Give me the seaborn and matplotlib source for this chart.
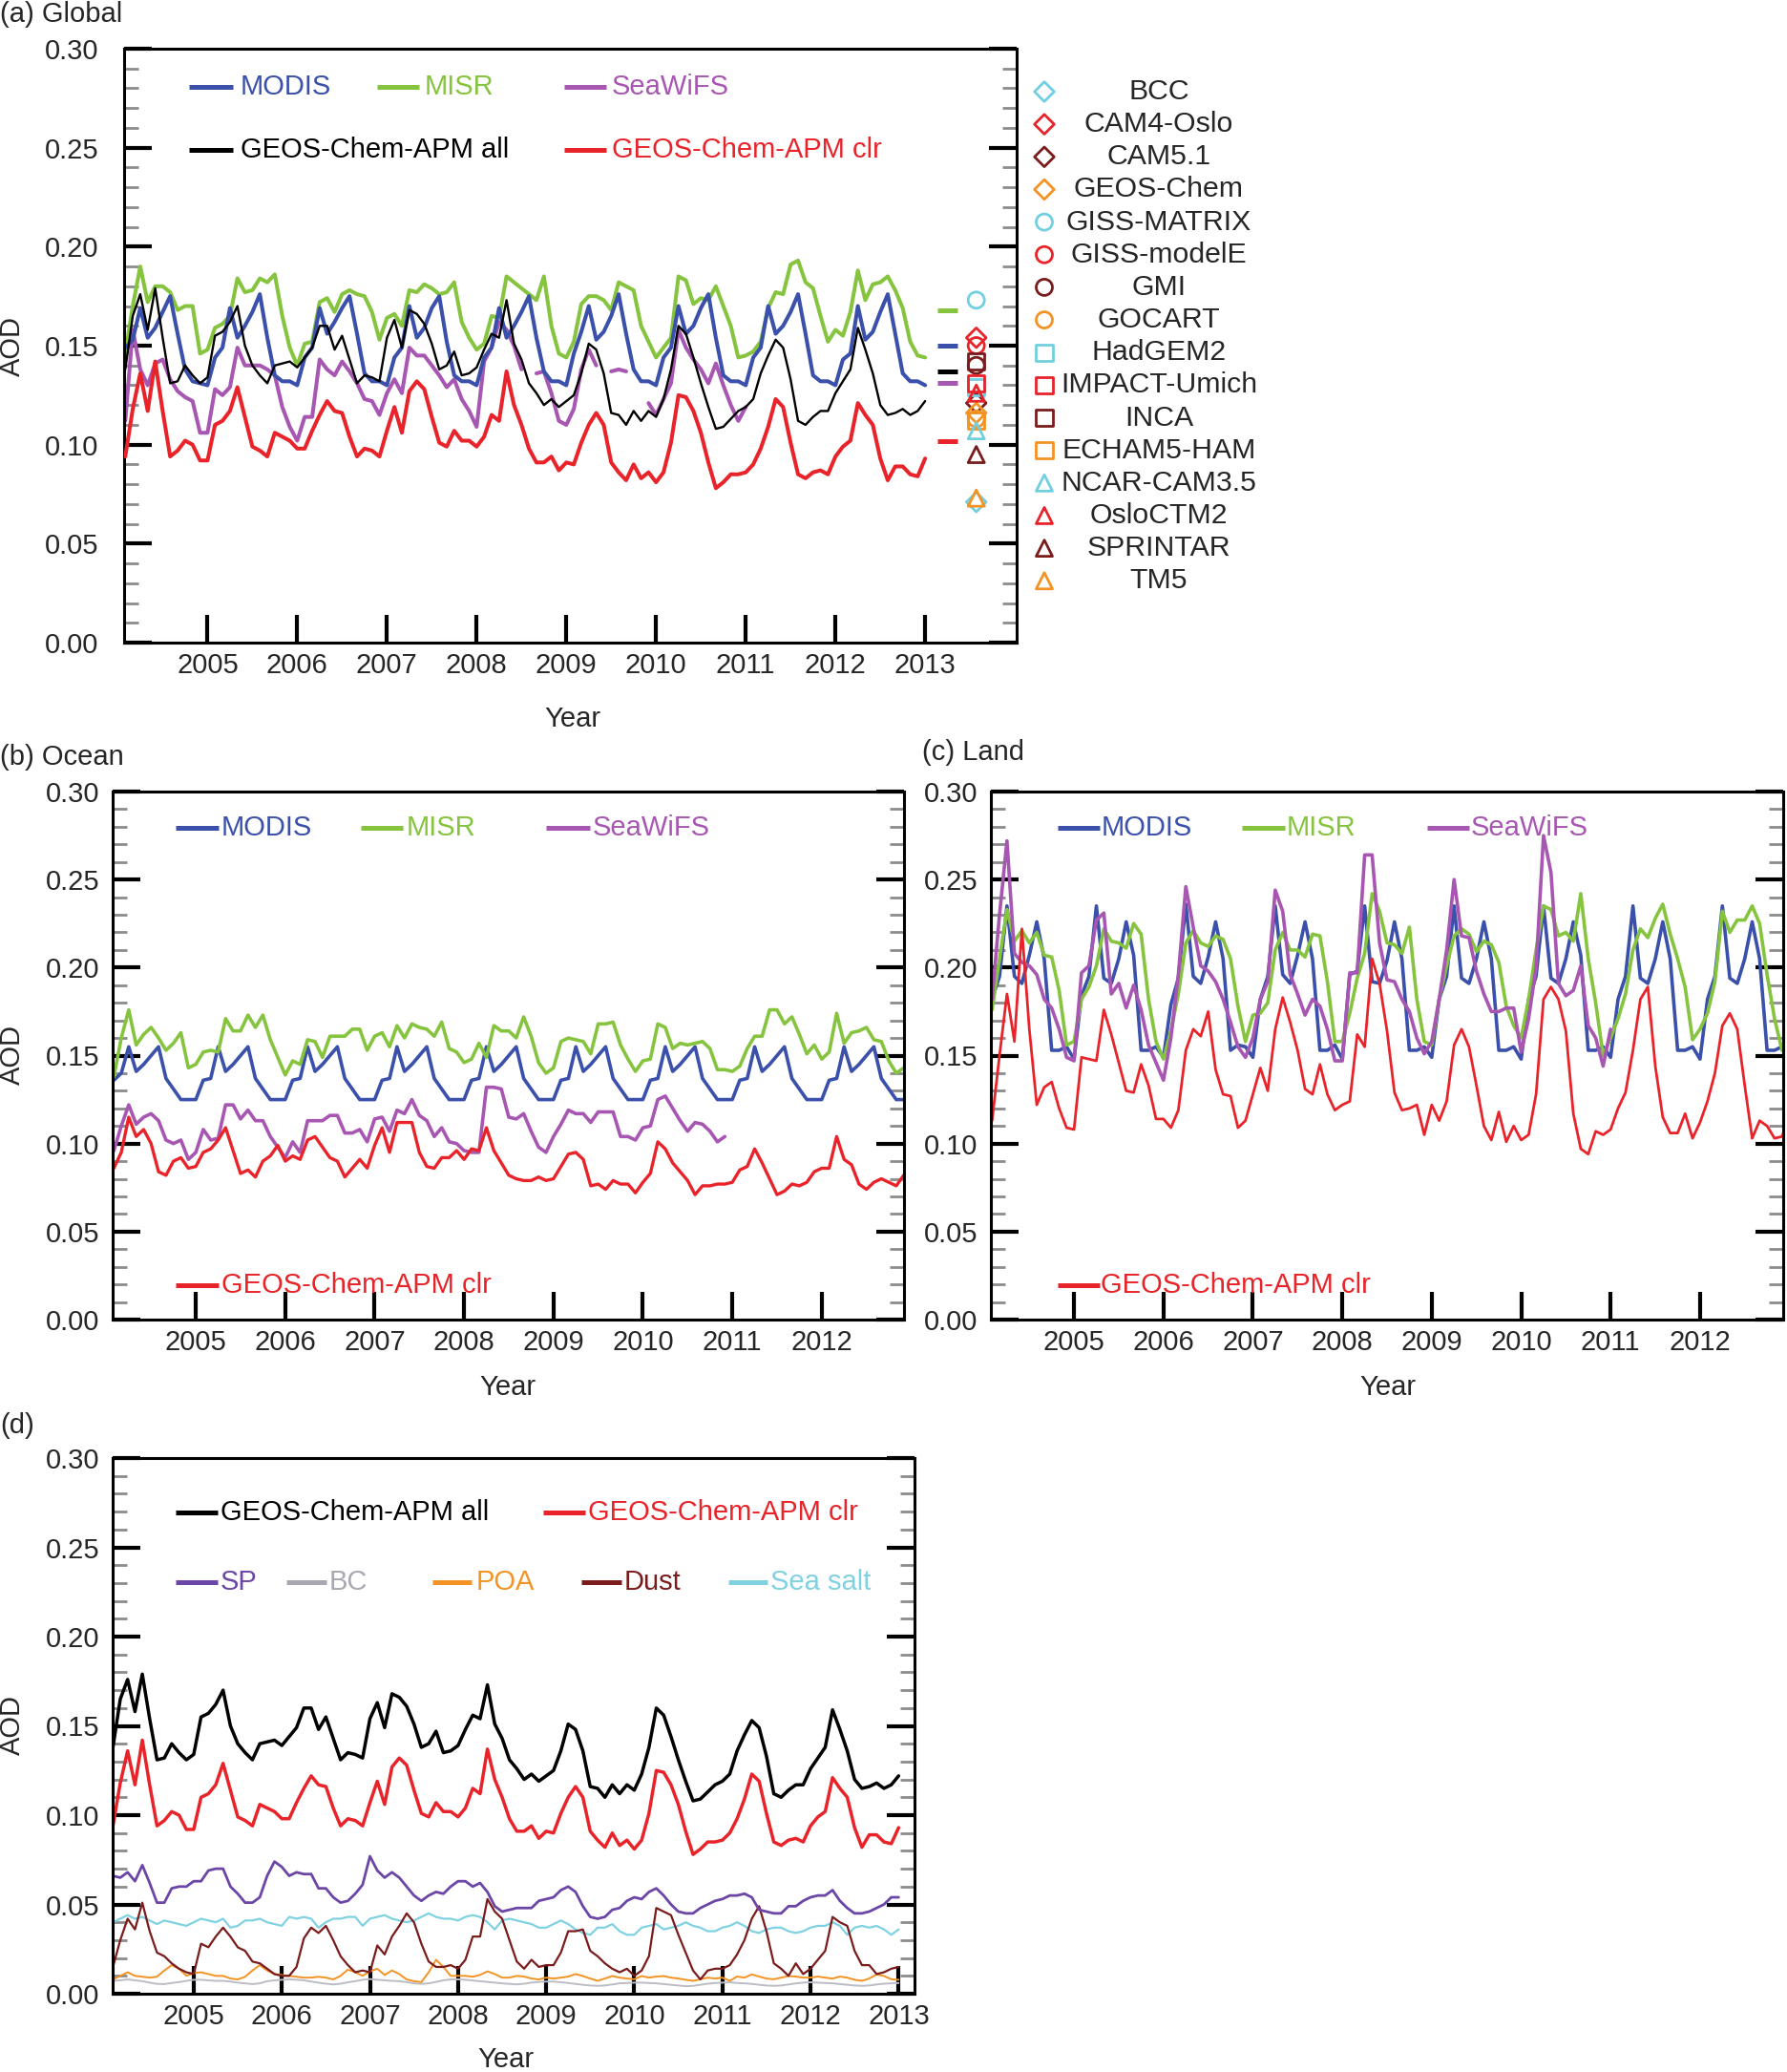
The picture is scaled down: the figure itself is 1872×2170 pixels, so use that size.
import numpy as np
import seaborn as sns
import matplotlib.pyplot as plt
from matplotlib.ticker import MultipleLocator, FormatStrFormatter

sns.set_theme(style='white')
plt.rcParams['font.family'] = ['Liberation Sans', 'DejaVu Sans']

# monthly means Jan 2004 .. Dec 2012, one row per year
months = np.arange(1, 109)
t = 2004 + months / 12.0
nan = np.nan

# ---- (a) global ----
modis_glb = [
    0.149, 0.153, 0.169, 0.154, 0.159, 0.167, 0.175, 0.156, 0.138, 0.132, 0.131, 0.130,
    0.144, 0.149, 0.169, 0.154, 0.160, 0.167, 0.176, 0.154, 0.135, 0.132, 0.132, 0.130,
    0.144, 0.149, 0.169, 0.156, 0.162, 0.169, 0.175, 0.156, 0.136, 0.132, 0.132, 0.130,
    0.144, 0.149, 0.170, 0.154, 0.159, 0.169, 0.175, 0.152, 0.135, 0.132, 0.132, 0.130,
    0.144, 0.149, 0.169, 0.154, 0.160, 0.167, 0.175, 0.154, 0.137, 0.132, 0.132, 0.130,
    0.146, 0.157, 0.170, 0.153, 0.157, 0.165, 0.176, 0.156, 0.138, 0.132, 0.132, 0.130,
    0.144, 0.149, 0.170, 0.156, 0.160, 0.169, 0.176, 0.154, 0.135, 0.132, 0.132, 0.130,
    0.144, 0.149, 0.170, 0.156, 0.160, 0.167, 0.176, 0.156, 0.135, 0.132, 0.132, 0.130,
    0.143, 0.146, 0.170, 0.153, 0.157, 0.167, 0.176, 0.156, 0.136, 0.132, 0.132, 0.130]
misr_glb = [
    0.146, 0.170, 0.190, 0.172, 0.180, 0.180, 0.177, 0.168, 0.170, 0.170, 0.146, 0.148,
    0.159, 0.161, 0.165, 0.184, 0.177, 0.178, 0.184, 0.182, 0.186, 0.165, 0.149, 0.140,
    0.151, 0.152, 0.172, 0.174, 0.167, 0.176, 0.178, 0.176, 0.175, 0.167, 0.153, 0.164,
    0.166, 0.160, 0.178, 0.177, 0.181, 0.179, 0.176, 0.177, 0.182, 0.162, 0.154, 0.148,
    0.151, 0.165, 0.164, 0.185, 0.182, 0.179, 0.176, 0.173, 0.185, 0.160, 0.146, 0.144,
    0.152, 0.171, 0.175, 0.175, 0.173, 0.168, 0.182, 0.180, 0.178, 0.160, 0.152, 0.144,
    0.149, 0.154, 0.185, 0.183, 0.171, 0.174, 0.173, 0.180, 0.170, 0.160, 0.144, 0.145,
    0.147, 0.152, 0.169, 0.177, 0.176, 0.191, 0.193, 0.182, 0.179, 0.165, 0.152, 0.158,
    0.155, 0.167, 0.188, 0.173, 0.181, 0.182, 0.185, 0.178, 0.169, 0.152, 0.145, 0.144]
seawifs_glb = [
    0.112, 0.158, 0.138, 0.130, 0.141, 0.143, 0.133, 0.127, 0.124, 0.122, 0.106, 0.106,
    0.128, 0.125, 0.129, 0.149, 0.140, 0.140, 0.140, 0.138, 0.135, 0.119, 0.109, 0.102,
    0.114, 0.114, 0.143, 0.138, 0.135, 0.142, 0.137, 0.131, 0.123, 0.122, 0.115, 0.126,
    0.133, 0.126, 0.149, 0.145, 0.145, 0.140, 0.135, 0.129, 0.133, 0.123, 0.117, 0.109,
    0.142, 0.149, 0.162, 0.158, 0.150, 0.138, nan, 0.136, 0.137, 0.126, 0.112, 0.110,
    0.118, 0.138, 0.148, 0.140, nan, 0.137, 0.138, 0.137, nan, nan, 0.121, 0.115,
    0.123, 0.131, 0.158, 0.149, 0.143, 0.138, 0.131, 0.141, 0.130, 0.120, 0.112, 0.119,
    nan, nan, nan, nan, nan, nan, nan, nan, nan, nan, nan, nan,
    nan, nan, nan, nan, nan, nan, nan, nan, nan, nan, nan, nan]
apm_all = [
    0.138, 0.165, 0.176, 0.158, 0.179, 0.154, 0.131, 0.132, 0.140, 0.135, 0.131, 0.134,
    0.155, 0.157, 0.162, 0.170, 0.150, 0.140, 0.135, 0.131, 0.140, 0.141, 0.142, 0.139,
    0.144, 0.149, 0.160, 0.160, 0.148, 0.155, 0.143, 0.131, 0.135, 0.134, 0.132, 0.154,
    0.163, 0.149, 0.168, 0.166, 0.161, 0.151, 0.138, 0.140, 0.147, 0.135, 0.136, 0.139,
    0.148, 0.156, 0.154, 0.173, 0.151, 0.143, 0.131, 0.126, 0.120, 0.123, 0.119, 0.122,
    0.125, 0.136, 0.151, 0.148, 0.136, 0.116, 0.115, 0.110, 0.117, 0.112, 0.117, 0.114,
    0.123, 0.138, 0.160, 0.156, 0.144, 0.131, 0.119, 0.108, 0.109, 0.113, 0.117, 0.119,
    0.123, 0.136, 0.145, 0.153, 0.149, 0.133, 0.112, 0.110, 0.114, 0.117, 0.117, 0.126,
    0.132, 0.138, 0.159, 0.148, 0.136, 0.120, 0.115, 0.116, 0.118, 0.115, 0.117, 0.122]
apm_clr = [
    0.094, 0.118, 0.136, 0.117, 0.142, 0.117, 0.094, 0.097, 0.102, 0.100, 0.092, 0.092,
    0.110, 0.112, 0.117, 0.129, 0.114, 0.099, 0.097, 0.094, 0.106, 0.104, 0.102, 0.098,
    0.098, 0.107, 0.115, 0.122, 0.117, 0.116, 0.104, 0.094, 0.098, 0.097, 0.094, 0.107,
    0.119, 0.106, 0.127, 0.132, 0.128, 0.114, 0.101, 0.099, 0.107, 0.102, 0.102, 0.099,
    0.104, 0.115, 0.112, 0.137, 0.120, 0.110, 0.098, 0.091, 0.091, 0.094, 0.087, 0.091,
    0.090, 0.101, 0.110, 0.116, 0.110, 0.091, 0.086, 0.082, 0.090, 0.083, 0.086, 0.081,
    0.086, 0.101, 0.125, 0.124, 0.117, 0.106, 0.091, 0.078, 0.081, 0.085, 0.085, 0.086,
    0.090, 0.098, 0.109, 0.123, 0.119, 0.101, 0.085, 0.083, 0.086, 0.087, 0.085, 0.094,
    0.099, 0.102, 0.121, 0.115, 0.110, 0.093, 0.082, 0.089, 0.089, 0.085, 0.084, 0.093]

# multi-year means shown as short bars right of the series
mean_labels = ['MISR', 'MODIS', 'APM all', 'SeaWiFS', 'APM clr']
mean_aod = [0.168, 0.150, 0.137, 0.131, 0.102]

# AeroCom models
models = ['BCC', 'CAM4-Oslo', 'CAM5.1', 'GEOS-Chem', 'GISS-MATRIX', 'GISS-modelE',
          'GMI', 'GOCART', 'HadGEM2', 'IMPACT-Umich', 'INCA', 'ECHAM5-HAM',
          'NCAR-CAM3.5', 'OsloCTM2', 'SPRINTAR', 'TM5']
model_aod = [0.071, 0.154, 0.121, 0.116, 0.173, 0.150, 0.140, 0.113,
             0.129, 0.131, 0.142, 0.112, 0.107, 0.126, 0.095, 0.073]

# ---- (b) ocean ----
modis_ocn = [
    0.136, 0.140, 0.155, 0.141, 0.145, 0.150, 0.155, 0.137, 0.131, 0.125, 0.125, 0.125,
    0.136, 0.137, 0.155, 0.141, 0.145, 0.150, 0.155, 0.137, 0.131, 0.125, 0.125, 0.125,
    0.136, 0.137, 0.155, 0.141, 0.145, 0.150, 0.155, 0.137, 0.131, 0.125, 0.125, 0.125,
    0.136, 0.137, 0.155, 0.141, 0.145, 0.150, 0.155, 0.137, 0.131, 0.125, 0.125, 0.125,
    0.136, 0.137, 0.155, 0.141, 0.145, 0.150, 0.155, 0.137, 0.131, 0.125, 0.125, 0.125,
    0.136, 0.137, 0.155, 0.141, 0.145, 0.150, 0.155, 0.137, 0.131, 0.125, 0.125, 0.125,
    0.136, 0.137, 0.155, 0.141, 0.145, 0.150, 0.155, 0.137, 0.131, 0.125, 0.125, 0.125,
    0.136, 0.137, 0.155, 0.141, 0.145, 0.150, 0.155, 0.137, 0.131, 0.125, 0.125, 0.125,
    0.136, 0.137, 0.155, 0.141, 0.145, 0.150, 0.155, 0.137, 0.131, 0.125, 0.125, 0.125]
misr_ocn = [
    0.138, 0.160, 0.176, 0.156, 0.162, 0.166, 0.160, 0.153, 0.157, 0.163, 0.143, 0.145,
    0.152, 0.153, 0.152, 0.171, 0.164, 0.164, 0.173, 0.166, 0.173, 0.159, 0.149, 0.139,
    0.147, 0.145, 0.159, 0.158, 0.149, 0.161, 0.161, 0.161, 0.165, 0.165, 0.153, 0.161,
    0.163, 0.155, 0.167, 0.160, 0.168, 0.166, 0.165, 0.161, 0.169, 0.154, 0.152, 0.146,
    0.148, 0.157, 0.149, 0.167, 0.164, 0.164, 0.160, 0.172, 0.161, 0.146, 0.140, 0.143,
    0.158, 0.160, 0.159, 0.158, 0.151, 0.168, 0.168, 0.169, 0.156, 0.148, 0.141, 0.147,
    0.148, 0.168, 0.166, 0.154, 0.157, 0.156, 0.157, 0.158, 0.154, 0.142, 0.142, 0.141,
    0.144, 0.154, 0.161, 0.161, 0.176, 0.176, 0.168, 0.172, 0.162, 0.151, 0.156, 0.148,
    0.152, 0.174, 0.157, 0.163, 0.164, 0.166, 0.159, 0.158, 0.147, 0.140, 0.143, 0.142]
seawifs_ocn = [
    0.096, 0.110, 0.122, 0.111, 0.115, 0.117, 0.113, 0.102, 0.100, 0.102, 0.091, 0.095,
    0.108, 0.102, 0.103, 0.122, 0.122, 0.114, 0.119, 0.113, 0.113, 0.104, 0.098, 0.092,
    0.101, 0.095, 0.113, 0.113, 0.113, 0.116, 0.116, 0.106, 0.106, 0.108, 0.101, 0.114,
    0.115, 0.107, 0.119, 0.117, 0.125, 0.116, 0.113, 0.104, 0.109, 0.101, 0.100, 0.096,
    0.095, 0.095, 0.132, 0.132, 0.131, 0.115, 0.114, 0.117, 0.107, 0.098, 0.095, 0.104,
    0.111, 0.119, 0.117, 0.117, 0.112, 0.118, 0.118, 0.118, 0.104, 0.104, 0.102, 0.109,
    0.110, 0.125, 0.127, 0.120, 0.113, 0.107, 0.112, 0.111, 0.107, 0.101, 0.104, nan,
    nan, nan, nan, nan, nan, nan, nan, nan, nan, nan, nan, nan,
    nan, nan, nan, nan, nan, nan, nan, nan, nan, nan, nan, nan]
clr_ocn = [
    0.086, 0.095, 0.115, 0.104, 0.108, 0.100, 0.084, 0.082, 0.090, 0.092, 0.086, 0.087,
    0.095, 0.097, 0.102, 0.109, 0.096, 0.083, 0.085, 0.081, 0.090, 0.093, 0.099, 0.090,
    0.093, 0.091, 0.102, 0.104, 0.098, 0.092, 0.090, 0.081, 0.086, 0.091, 0.086, 0.099,
    0.109, 0.095, 0.112, 0.112, 0.112, 0.095, 0.087, 0.086, 0.092, 0.092, 0.096, 0.091,
    0.097, 0.096, 0.109, 0.096, 0.089, 0.082, 0.080, 0.079, 0.079, 0.081, 0.079, 0.080,
    0.087, 0.094, 0.095, 0.091, 0.076, 0.077, 0.074, 0.079, 0.077, 0.077, 0.072, 0.078,
    0.083, 0.101, 0.097, 0.089, 0.084, 0.079, 0.071, 0.076, 0.076, 0.077, 0.077, 0.078,
    0.085, 0.087, 0.097, 0.089, 0.080, 0.071, 0.073, 0.077, 0.076, 0.078, 0.084, 0.086,
    0.086, 0.104, 0.091, 0.088, 0.077, 0.074, 0.078, 0.080, 0.078, 0.076, 0.082, 0.084]

# ---- (c) land ----
modis_lnd = [
    0.182, 0.195, 0.235, 0.195, 0.191, 0.207, 0.226, 0.205, 0.153, 0.153, 0.155, 0.148,
    0.184, 0.195, 0.235, 0.194, 0.191, 0.205, 0.226, 0.207, 0.153, 0.153, 0.155, 0.149,
    0.179, 0.194, 0.236, 0.195, 0.191, 0.206, 0.226, 0.205, 0.153, 0.156, 0.155, 0.149,
    0.182, 0.195, 0.235, 0.196, 0.191, 0.207, 0.226, 0.205, 0.153, 0.153, 0.156, 0.148,
    0.196, 0.198, 0.235, 0.192, 0.191, 0.204, 0.226, 0.205, 0.153, 0.153, 0.155, 0.149,
    0.182, 0.195, 0.235, 0.194, 0.191, 0.205, 0.226, 0.205, 0.153, 0.153, 0.155, 0.148,
    0.182, 0.195, 0.235, 0.194, 0.191, 0.205, 0.226, 0.207, 0.153, 0.153, 0.155, 0.149,
    0.182, 0.195, 0.235, 0.194, 0.191, 0.205, 0.226, 0.205, 0.153, 0.153, 0.155, 0.148,
    0.182, 0.195, 0.235, 0.194, 0.191, 0.205, 0.226, 0.205, 0.153, 0.153, 0.155, 0.150]
misr_lnd = [
    0.176, 0.205, 0.233, 0.215, 0.221, 0.214, 0.220, 0.207, 0.206, 0.187, 0.156, 0.158,
    0.182, 0.189, 0.201, 0.222, 0.215, 0.214, 0.211, 0.225, 0.219, 0.182, 0.158, 0.148,
    0.164, 0.185, 0.214, 0.221, 0.214, 0.212, 0.218, 0.216, 0.205, 0.178, 0.158, 0.173,
    0.174, 0.180, 0.210, 0.220, 0.210, 0.210, 0.206, 0.219, 0.218, 0.192, 0.158, 0.158,
    0.174, 0.194, 0.208, 0.242, 0.232, 0.214, 0.213, 0.208, 0.223, 0.182, 0.158, 0.156,
    0.182, 0.201, 0.218, 0.222, 0.219, 0.209, 0.215, 0.213, 0.203, 0.178, 0.167, 0.160,
    0.182, 0.210, 0.235, 0.233, 0.218, 0.220, 0.215, 0.242, 0.205, 0.180, 0.150, 0.160,
    0.171, 0.185, 0.210, 0.222, 0.217, 0.228, 0.236, 0.219, 0.205, 0.189, 0.159, 0.165,
    0.174, 0.192, 0.232, 0.220, 0.227, 0.227, 0.235, 0.225, 0.196, 0.171, 0.153, 0.150]
seawifs_lnd = [
    0.182, 0.230, 0.272, 0.208, 0.203, 0.201, 0.196, 0.182, 0.177, 0.165, 0.149, 0.147,
    0.197, 0.201, 0.227, 0.231, 0.185, 0.191, 0.177, 0.190, 0.176, 0.156, 0.146, 0.136,
    0.160, 0.196, 0.246, 0.223, 0.201, 0.198, 0.192, 0.182, 0.169, 0.155, 0.149, 0.160,
    0.182, 0.192, 0.244, 0.232, 0.196, 0.185, 0.173, 0.182, 0.178, 0.165, 0.147, 0.147,
    0.197, 0.197, 0.264, 0.264, 0.214, 0.193, 0.192, 0.182, 0.175, 0.160, 0.151, 0.158,
    0.182, 0.210, 0.250, 0.218, 0.217, 0.198, 0.185, 0.175, 0.175, 0.177, 0.177, 0.152,
    0.171, 0.200, 0.275, 0.254, 0.191, 0.184, 0.187, 0.201, 0.167, 0.160, 0.144, 0.165,
    nan, nan, nan, nan, nan, nan, nan, nan, nan, nan, nan, nan,
    nan, nan, nan, nan, nan, nan, nan, nan, nan, nan, nan, nan]
clr_lnd = [
    0.113, 0.150, 0.185, 0.158, 0.222, 0.165, 0.122, 0.132, 0.135, 0.120, 0.109, 0.108,
    0.149, 0.148, 0.147, 0.176, 0.162, 0.146, 0.130, 0.129, 0.145, 0.133, 0.114, 0.114,
    0.109, 0.119, 0.153, 0.165, 0.161, 0.175, 0.142, 0.128, 0.127, 0.109, 0.113, 0.128,
    0.143, 0.130, 0.165, 0.183, 0.169, 0.153, 0.131, 0.128, 0.145, 0.128, 0.119, 0.122,
    0.124, 0.162, 0.155, 0.205, 0.191, 0.164, 0.129, 0.119, 0.120, 0.122, 0.105, 0.122,
    0.113, 0.124, 0.156, 0.165, 0.155, 0.133, 0.110, 0.102, 0.118, 0.101, 0.110, 0.102,
    0.105, 0.128, 0.182, 0.189, 0.182, 0.164, 0.117, 0.097, 0.094, 0.107, 0.105, 0.108,
    0.120, 0.129, 0.153, 0.182, 0.189, 0.144, 0.115, 0.106, 0.106, 0.117, 0.103, 0.112,
    0.124, 0.140, 0.167, 0.174, 0.165, 0.133, 0.103, 0.113, 0.110, 0.103, 0.104, 0.115]

# ---- (d) components (global, GEOS-Chem-APM) ----
sp = [
    0.066, 0.065, 0.068, 0.063, 0.072, 0.062, 0.051, 0.051, 0.059, 0.060, 0.060, 0.063,
    0.063, 0.069, 0.070, 0.070, 0.060, 0.056, 0.051, 0.051, 0.054, 0.066, 0.074, 0.071,
    0.066, 0.068, 0.067, 0.067, 0.059, 0.059, 0.054, 0.051, 0.052, 0.056, 0.061, 0.077,
    0.069, 0.065, 0.068, 0.065, 0.060, 0.055, 0.052, 0.055, 0.057, 0.056, 0.060, 0.063,
    0.063, 0.060, 0.062, 0.057, 0.049, 0.046, 0.047, 0.048, 0.048, 0.048, 0.052, 0.053,
    0.054, 0.058, 0.060, 0.057, 0.049, 0.043, 0.042, 0.043, 0.047, 0.048, 0.052, 0.054,
    0.053, 0.057, 0.059, 0.055, 0.050, 0.046, 0.045, 0.045, 0.048, 0.050, 0.052, 0.053,
    0.055, 0.055, 0.056, 0.054, 0.047, 0.046, 0.045, 0.045, 0.049, 0.049, 0.052, 0.054,
    0.055, 0.055, 0.058, 0.052, 0.048, 0.045, 0.045, 0.046, 0.048, 0.050, 0.054, 0.054]
bc = [
    0.0072, 0.0075, 0.0080, 0.0075, 0.0070, 0.0062, 0.0055, 0.0054, 0.0060, 0.0065, 0.0072, 0.0078,
    0.0078, 0.0075, 0.0072, 0.0072, 0.0068, 0.0062, 0.0058, 0.0054, 0.0058, 0.0070, 0.0075, 0.0078,
    0.0080, 0.0078, 0.0075, 0.0068, 0.0062, 0.0056, 0.0052, 0.0056, 0.0064, 0.0070, 0.0078, 0.0082,
    0.0078, 0.0075, 0.0072, 0.0070, 0.0065, 0.0058, 0.0055, 0.0058, 0.0066, 0.0075, 0.0080, 0.0080,
    0.0078, 0.0074, 0.0070, 0.0066, 0.0062, 0.0058, 0.0055, 0.0052, 0.0056, 0.0062, 0.0066, 0.0068,
    0.0068, 0.0064, 0.0060, 0.0055, 0.0050, 0.0046, 0.0044, 0.0046, 0.0052, 0.0058, 0.0060, 0.0062,
    0.0062, 0.0060, 0.0058, 0.0054, 0.0050, 0.0046, 0.0042, 0.0044, 0.0050, 0.0056, 0.0060, 0.0062,
    0.0064, 0.0060, 0.0058, 0.0055, 0.0050, 0.0046, 0.0044, 0.0046, 0.0052, 0.0058, 0.0062, 0.0064,
    0.0062, 0.0060, 0.0058, 0.0054, 0.0050, 0.0046, 0.0044, 0.0046, 0.0052, 0.0056, 0.0058, 0.0060]
poa = [
    0.0080, 0.0100, 0.0120, 0.0100, 0.0095, 0.0090, 0.0095, 0.0130, 0.0160, 0.0140, 0.0100, 0.0115,
    0.0120, 0.0110, 0.0100, 0.0100, 0.0085, 0.0080, 0.0095, 0.0130, 0.0160, 0.0130, 0.0110, 0.0105,
    0.0100, 0.0095, 0.0090, 0.0090, 0.0095, 0.0090, 0.0080, 0.0100, 0.0135, 0.0120, 0.0100, 0.0125,
    0.0140, 0.0105, 0.0130, 0.0110, 0.0080, 0.0070, 0.0065, 0.0120, 0.0190, 0.0150, 0.0100, 0.0100,
    0.0100, 0.0095, 0.0105, 0.0125, 0.0110, 0.0090, 0.0090, 0.0100, 0.0096, 0.0085, 0.0080, 0.0090,
    0.0085, 0.0090, 0.0096, 0.0110, 0.0099, 0.0085, 0.0072, 0.0085, 0.0099, 0.0090, 0.0085, 0.0081,
    0.0099, 0.0090, 0.0096, 0.0099, 0.0090, 0.0085, 0.0078, 0.0072, 0.0081, 0.0090, 0.0085, 0.0090,
    0.0072, 0.0096, 0.0090, 0.0108, 0.0096, 0.0085, 0.0081, 0.0090, 0.0099, 0.0096, 0.0090, 0.0090,
    0.0096, 0.0090, 0.0085, 0.0096, 0.0090, 0.0078, 0.0072, 0.0085, 0.0108, 0.0099, 0.0081, 0.0078]
dust = [
    0.015, 0.030, 0.042, 0.036, 0.051, 0.035, 0.023, 0.021, 0.017, 0.014, 0.012, 0.011,
    0.028, 0.026, 0.032, 0.037, 0.032, 0.026, 0.024, 0.018, 0.017, 0.014, 0.011, 0.010,
    0.010, 0.015, 0.031, 0.037, 0.034, 0.038, 0.030, 0.021, 0.016, 0.012, 0.013, 0.012,
    0.027, 0.022, 0.032, 0.038, 0.045, 0.040, 0.028, 0.018, 0.015, 0.015, 0.016, 0.014,
    0.019, 0.032, 0.032, 0.053, 0.046, 0.042, 0.030, 0.018, 0.014, 0.019, 0.015, 0.016,
    0.016, 0.023, 0.035, 0.035, 0.036, 0.024, 0.021, 0.017, 0.014, 0.012, 0.014, 0.010,
    0.013, 0.021, 0.048, 0.046, 0.044, 0.033, 0.023, 0.013, 0.008, 0.013, 0.014, 0.014,
    0.016, 0.022, 0.030, 0.042, 0.049, 0.035, 0.017, 0.014, 0.010, 0.017, 0.011, 0.014,
    0.019, 0.024, 0.043, 0.040, 0.038, 0.024, 0.016, 0.016, 0.011, 0.012, 0.014, 0.015]
sea_salt = [
    0.040, 0.042, 0.044, 0.042, 0.043, 0.041, 0.039, 0.041, 0.040, 0.039, 0.038, 0.040,
    0.042, 0.041, 0.040, 0.042, 0.037, 0.038, 0.041, 0.041, 0.042, 0.040, 0.039, 0.038,
    0.043, 0.042, 0.043, 0.042, 0.037, 0.040, 0.042, 0.042, 0.043, 0.043, 0.038, 0.042,
    0.043, 0.044, 0.042, 0.041, 0.040, 0.041, 0.043, 0.045, 0.043, 0.042, 0.042, 0.041,
    0.043, 0.044, 0.043, 0.040, 0.036, 0.041, 0.042, 0.041, 0.040, 0.039, 0.037, 0.037,
    0.039, 0.041, 0.039, 0.036, 0.034, 0.033, 0.037, 0.037, 0.039, 0.035, 0.033, 0.033,
    0.037, 0.038, 0.039, 0.036, 0.037, 0.038, 0.040, 0.038, 0.037, 0.035, 0.035, 0.037,
    0.038, 0.040, 0.038, 0.035, 0.034, 0.036, 0.037, 0.037, 0.035, 0.034, 0.035, 0.037,
    0.038, 0.038, 0.040, 0.038, 0.033, 0.037, 0.038, 0.037, 0.038, 0.036, 0.033, 0.036]

# colours
C_MODIS = '#3a50aa'
C_MISR = '#86c440'
C_SEAWIFS = '#a757b2'
C_RED = '#e8232a'
C_SP = '#6b46a6'
C_BC = '#bcbcc6'
C_POA = '#f39324'
C_DUST = '#7a1c1c'
C_SALT = '#80d2e2'
C_CYAN = '#72cfe0'
FS = 21

W, H = 1872, 2170
fig = plt.figure(figsize=(W / 100, H / 100), dpi=100)


def px_axes(x0, y0, x1, y1):
    return fig.add_axes([x0 / W, 1 - y1 / H, (x1 - x0) / W, (y1 - y0) / H])


def draw(ax, vals, color, lw, z=2):
    y = np.asarray(vals, dtype=float)
    idx = np.where(~np.isnan(y))[0]
    for run in np.split(idx, np.where(np.diff(idx) > 1)[0] + 1):
        if len(run) > 1:
            sns.lineplot(x=t[run], y=y[run], ax=ax, color=color, linewidth=lw,
                         zorder=z)


def key(ax, x0, x1, xt, y, label, color):
    ax.plot([x0, x1], [y, y], transform=ax.transAxes, color=color, lw=3.6,
            solid_capstyle='butt', clip_on=False)
    ax.text(xt, y, label, transform=ax.transAxes, color=color, fontsize=FS,
            va='center', ha='left')


def style(ax, xlim, years, ypad):
    ax.set_xlim(*xlim)
    ax.set_ylim(0, 0.30)
    ax.set_xticks(years)
    ax.set_xticklabels([str(y) for y in years])
    ax.yaxis.set_major_locator(MultipleLocator(0.05))
    ax.yaxis.set_minor_locator(MultipleLocator(0.01))
    ax.yaxis.set_major_formatter(FormatStrFormatter('%.2f'))
    ax.tick_params(axis='y', which='major', direction='in', length=21, width=3,
                   left=True, right=True, labelsize=FS, pad=ypad, color='black')
    ax.tick_params(axis='y', which='minor', direction='in', length=11, width=2,
                   left=True, right=True, color='#8c8c8c')
    ax.tick_params(axis='x', which='major', direction='in', length=21, width=3,
                   bottom=True, top=False, labelsize=FS, pad=7, color='black')
    ax.tick_params(axis='x', which='minor', bottom=False, top=False)
    for s in ax.spines.values():
        s.set_linewidth(2.2)
        s.set_color('black')
        s.set_visible(True)
    ax.set_xlabel('')
    ax.set_ylabel('')


# ---------- (a) Global ----------
ax = px_axes(130, 51, 1065, 673)
draw(ax, seawifs_glb, C_SEAWIFS, 2.9)
draw(ax, misr_glb, C_MISR, 2.9)
draw(ax, modis_glb, C_MODIS, 2.9)
draw(ax, apm_all, 'black', 1.7, z=3)
draw(ax, apm_clr, C_RED, 2.9, z=3)
mean_colors = [C_MISR, C_MODIS, 'black', C_SEAWIFS, C_RED]
for v, c in zip(mean_aod, mean_colors):
    ax.plot([2013.14, 2013.36], [v, v], color=c, lw=3.6, solid_capstyle='butt')
model_marks = ['D', 'o', 's', '^']
model_cols = [C_CYAN, C_RED, C_DUST, C_POA]
for i, v in enumerate(model_aod):
    ax.scatter([2013.57], [v], marker=model_marks[i // 4], s=150 if i // 4 else 110,
               facecolors='none', edgecolors=model_cols[i % 4], linewidths=2, zorder=4)
style(ax, (2004.07, 2014.02), list(range(2005, 2014)), 19)
key(ax, 0.0727, 0.1216, 0.130, 0.935, 'MODIS', C_MODIS)
key(ax, 0.283, 0.331, 0.336, 0.935, 'MISR', C_MISR)
key(ax, 0.493, 0.540, 0.546, 0.935, 'SeaWiFS', C_SEAWIFS)
key(ax, 0.0727, 0.1216, 0.131, 0.830, 'GEOS-Chem-APM all', 'black')
key(ax, 0.493, 0.540, 0.546, 0.830, 'GEOS-Chem-APM clr', C_RED)

# ---------- (b) Ocean ----------
ax = px_axes(118, 829, 947, 1382)
draw(ax, modis_ocn, C_MODIS, 2.6)
draw(ax, misr_ocn, C_MISR, 2.6)
draw(ax, seawifs_ocn, C_SEAWIFS, 2.6)
draw(ax, clr_ocn, C_RED, 2.4)
style(ax, (2004.07, 2012.92), list(range(2005, 2013)), 10)
key(ax, 0.080, 0.134, 0.137, 0.932, 'MODIS', C_MODIS)
key(ax, 0.314, 0.367, 0.371, 0.932, 'MISR', C_MISR)
key(ax, 0.548, 0.603, 0.606, 0.932, 'SeaWiFS', C_SEAWIFS)
key(ax, 0.080, 0.134, 0.137, 0.0655, 'GEOS-Chem-APM clr', C_RED)

# ---------- (c) Land ----------
ax = px_axes(1038, 829, 1868, 1382)
draw(ax, modis_lnd, C_MODIS, 2.6)
draw(ax, misr_lnd, C_MISR, 2.6)
draw(ax, seawifs_lnd, C_SEAWIFS, 2.6)
draw(ax, clr_lnd, C_RED, 2.0)
style(ax, (2004.07, 2012.93), list(range(2005, 2013)), 10)
key(ax, 0.084, 0.137, 0.139, 0.932, 'MODIS', C_MODIS)
key(ax, 0.317, 0.371, 0.373, 0.932, 'MISR', C_MISR)
key(ax, 0.551, 0.604, 0.606, 0.932, 'SeaWiFS', C_SEAWIFS)
key(ax, 0.084, 0.137, 0.139, 0.0655, 'GEOS-Chem-APM clr', C_RED)

# ---------- (d) components ----------
ax = px_axes(118, 1527, 958, 2088)
draw(ax, bc, C_BC, 1.4)
draw(ax, poa, C_POA, 1.4)
draw(ax, sea_salt, C_SALT, 1.6)
draw(ax, dust, C_DUST, 1.6)
draw(ax, sp, C_SP, 2.0)
draw(ax, apm_all, 'black', 2.5)
draw(ax, apm_clr, C_RED, 2.5)
style(ax, (2004.08, 2013.18), list(range(2005, 2014)), 10)
key(ax, 0.0786, 0.1315, 0.1346, 0.898, 'GEOS-Chem-APM all', 'black')
key(ax, 0.537, 0.589, 0.593, 0.898, 'GEOS-Chem-APM clr', C_RED)
key(ax, 0.0786, 0.1315, 0.1346, 0.768, 'SP', C_SP)
key(ax, 0.217, 0.267, 0.270, 0.768, 'BC', '#a8a8b2')
key(ax, 0.399, 0.448, 0.453, 0.768, 'POA', C_POA)
key(ax, 0.585, 0.634, 0.6375, 0.768, 'Dust', C_DUST)
key(ax, 0.768, 0.817, 0.820, 0.768, 'Sea salt', C_SALT)

# ---------- overlay: panel titles, axis titles, model key ----------
ov = fig.add_axes([0, 0, 1, 1], facecolor='none')
ov.set_xlim(0, W)
ov.set_ylim(H, 0)
ov.axis('off')
for x, y, s in [(0, 15, '(a) Global'), (0, 793, '(b) Ocean'),
                (966, 788, '(c) Land'), (0, 1493, '(d)')]:
    ov.text(x, y, s, fontsize=FS, ha='left', va='center')
for y in [362, 1105, 1807]:
    ov.text(13, y, 'AOD', fontsize=FS, rotation=90, ha='center', va='center')
for x, y in [(600, 753), (532, 1453), (1454, 1453), (530, 2157)]:
    ov.text(x, y, 'Year', fontsize=FS, ha='center', va='center')
for i, name in enumerate(models):
    yy = 96 + 34.15 * i
    ov.scatter([1094], [yy], marker=model_marks[i // 4], s=150 if i // 4 else 110,
               facecolors='none', edgecolors=model_cols[i % 4], linewidths=2)
    ov.text(1214, yy, name, fontsize=21.8, ha='center', va='center')

fig.savefig('out.png', dpi=100)
